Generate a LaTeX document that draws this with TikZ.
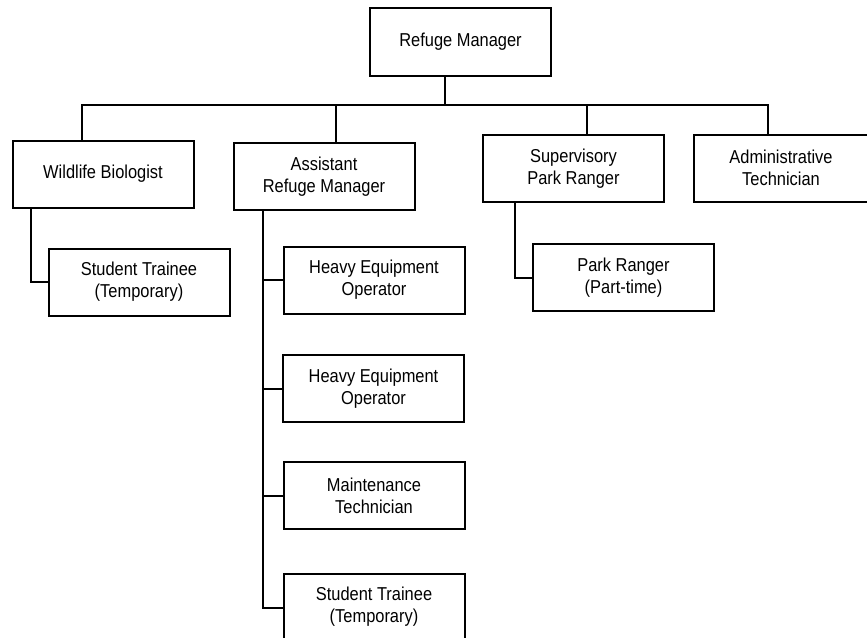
\documentclass[tikz,border=0pt]{standalone}
\usepackage{fontspec}
\setmainfont{Liberation Sans}[FakeStretch=0.88]
\usepackage{tikz}

\begin{document}
\begin{tikzpicture}[x=0.75pt,y=-0.75pt,
		box/.style={draw, line width=1.5pt, minimum width=135.75pt, minimum height=50.25pt,
			align=center, font=\fontsize{14}{16.5}\selectfont},
		link/.style={line width=1.5pt}]
		%% 1 unit = 1 pixel of the chart, y grows downwards
		\useasboundingbox (0,0) rectangle (867,637);

		% Head of the refuge
		\node[box, minimum height=51pt] (boss) at (460.5,42) {Refuge Manager};

		% Second row
		\node[box] (wild) at (103,174) {Wildlife Biologist};
		\node[box] (asst) at (324,176.5) {Assistant\\Refuge Manager};
		\node[box] (super) at (573.5,168.5) {Supervisory\\Park Ranger};
		\node[box, minimum width=130.5pt] (admin) at (781,168) {Administrative\\Technician};

		% Staff under the second row
		\node[box] (trainA) at (139,282) {Student Trainee\\(Temporary)};
		\node[box] (heoA) at (374,280) {Heavy Equipment\\Operator};
		\node[box] (heoB) at (373.5,388.5) {Heavy Equipment\\Operator};
		\node[box] (maint) at (374,495.5) {Maintenance\\Technician};
		\node[box] (trainB) at (374,607) {Student Trainee\\(Temporary)};
		\node[box] (ranger) at (623.5,277.5) {Park Ranger\\(Part-time)};

		%% Bus under the manager
		\coordinate (busM) at (445,105);
		\coordinate (busW) at (82,105);
		\coordinate (busA) at (336,105);
		\coordinate (busS) at (587,105);
		\coordinate (busE) at (768,105);
		\draw[link] (busM |- boss.south) -- (busM);
		\draw[link] (wild.north -| busW) -- (busW) -- (busE) -- (busE |- admin.north);
		\draw[link] (busA) -- (busA |- asst.north);
		\draw[link] (busS) -- (busS |- super.north);

		% Branches down the left side of the boxes
		\coordinate (dW) at (31,0);
		\coordinate (dA) at (263,0);
		\coordinate (dS) at (515,0);
		\draw[link] (dW |- wild.south) |- (trainA.west);
		\draw[link] (dS |- super.south) |- (ranger.west);
		\draw[link] (dA |- asst.south) |- ([yshift=-0.75pt]trainB.west);
		\draw[link] (dA |- heoA.west) -- (heoA.west);
		\draw[link] (dA |- heoB.west) -- (heoB.west);
		\draw[link] (dA |- maint.west) -- (maint.west);
	\end{tikzpicture}
\end{document}
